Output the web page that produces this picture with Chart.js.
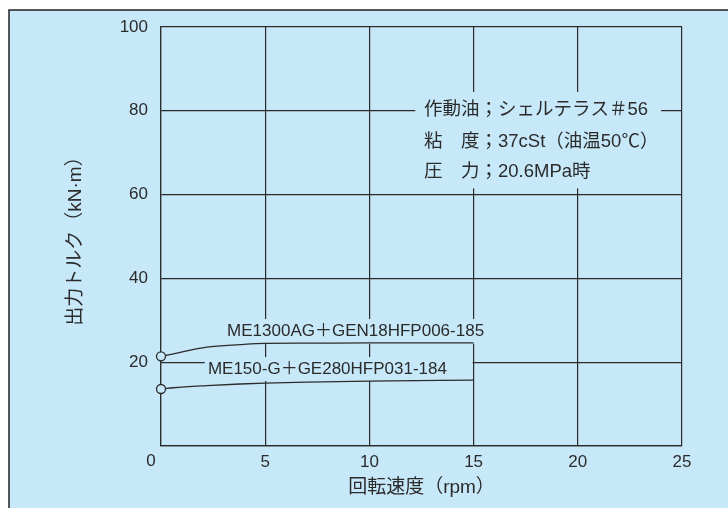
<!DOCTYPE html>
<html>
<head>
<meta charset="utf-8">
<script src="https://cdn.jsdelivr.net/npm/chart.js@4.4.1/dist/chart.umd.min.js"></script>
<style>
  html, body { margin: 0; padding: 0; background: #fff; }
  #wrap { width: 728px; height: 508px; }
</style>
</head>
<body>
<div id="wrap"><canvas id="torque_chart" width="728" height="508"></canvas></div>
<script>
// data
const rpmA = [0, 0.6, 2.2, 3.8, 5, 7, 10, 15];
const torqueA = [21.4, 22.0, 23.6, 24.2, 24.5, 24.55, 24.6, 24.6];
const rpmB = [0, 0.6, 2.2, 3.8, 5, 7, 10, 15];
const torqueB = [13.6, 13.9, 14.4, 14.8, 15.0, 15.25, 15.5, 15.7];
const seriesNames = ["ME1300AG＋GEN18HFP006-185", "ME150-G＋GE280HFP031-184"];
const xTicks = [0, 5, 10, 15, 20, 25];
const yTicks = [20, 40, 60, 80, 100];
const noteLines = ["作動油；シェルテラス＃56", "粘　度；37cSt（油温50℃）", "圧　力；20.6MPa時"];

const BG = "#c6e8f8";
const INK = "#2b2b2b";
const FONT = '"Liberation Sans", "Noto Sans CJK JP", sans-serif';

// boxes that hide the grid behind labels, in data units [x0, x1, y0, y1]
const masks = [
  [12.2, 24.0, 61.5, 84.5],
  [2.9, 15.6, 24.4, 30.3],
  [2.1, 14.95, 15.5, 21.2]
];

const decor = {
  id: "decor",
  beforeDraw(chart) {
    const c = chart.ctx;
    c.save();
    c.fillStyle = "#fff";
    c.fillRect(0, 0, chart.width, chart.height);
    c.fillStyle = BG;
    c.fillRect(9, 10, chart.width, chart.height);
    c.strokeStyle = "#222";
    c.lineWidth = 1.5;
    c.beginPath();
    c.moveTo(9, chart.height);
    c.lineTo(9, 10);
    c.lineTo(chart.width, 10);
    c.stroke();
    c.restore();
  },
  beforeDatasetsDraw(chart) {
    const c = chart.ctx, xs = chart.scales.x, ys = chart.scales.y;
    c.save();
    c.fillStyle = BG;
    masks.forEach(m => {
      const x0 = xs.getPixelForValue(m[0]), x1 = xs.getPixelForValue(m[1]);
      const y0 = ys.getPixelForValue(m[3]), y1 = ys.getPixelForValue(m[2]);
      c.fillRect(x0, y0, x1 - x0, y1 - y0);
    });
    c.restore();
  },
  afterDatasetsDraw(chart) {
    const c = chart.ctx, xs = chart.scales.x, ys = chart.scales.y;
    c.save();
    c.fillStyle = INK;
    c.textBaseline = "middle";
    c.textAlign = "left";
    c.font = "18.5px " + FONT;
    const noteY = [80.3, 72.6, 65.4];
    noteLines.forEach((t, i) => {
      c.fillText(t, xs.getPixelForValue(12.62), ys.getPixelForValue(noteY[i]));
    });
    c.font = "17px " + FONT;
    c.fillText(seriesNames[0], xs.getPixelForValue(3.17), ys.getPixelForValue(27.3));
    c.fillText(seriesNames[1], xs.getPixelForValue(2.25), ys.getPixelForValue(18.4));
    // x "0" sits left of the corner
    c.textAlign = "center";
    c.fillText("0", xs.getPixelForValue(0) - 10, ys.bottom + 15);
    c.restore();
  }
};

const ctx = document.getElementById("torque_chart").getContext("2d");
new Chart(ctx, {
  type: "line",
  data: {
    datasets: [
      {
        label: seriesNames[0],
        data: rpmA.map((x, i) => ({ x: x, y: torqueA[i] })),
      },
      {
        label: seriesNames[1],
        data: rpmB.map((x, i) => ({ x: x, y: torqueB[i] })),
      },
    ].map(d => Object.assign(d, {
      borderColor: INK,
      borderWidth: 1.3,
      cubicInterpolationMode: "monotone",
      pointRadius: c => (c.dataIndex === 0 ? 4.5 : 0),
      pointBackgroundColor: BG,
      pointBorderColor: INK,
      pointBorderWidth: 1.3,
      clip: false,
    })),
  },
  options: {
    responsive: false,
    animation: false,
    layout: { padding: { top: 27, right: 46, left: 0, bottom: 0 } },
    plugins: { legend: { display: false }, tooltip: { enabled: false } },
    scales: {
      x: {
        type: "linear",
        min: xTicks[0],
        max: xTicks[xTicks.length - 1],
        afterBuildTicks: s => { s.ticks = xTicks.map(v => ({ value: v })); },
        afterFit: s => { s.height = 62; },
        grid: { color: INK, lineWidth: 1.2, drawTicks: false },
        border: { color: INK, width: 1.2 },
        ticks: {
          padding: 6,
          color: INK,
          font: { family: FONT, size: 17 },
          callback: v => (v === 0 ? "" : v),
        },
        title: {
          display: true,
          text: "回転速度（rpm）",
          color: INK,
          font: { family: FONT, size: 19 },
          padding: { top: 0, bottom: 8.6 },
        },
      },
      y: {
        min: 0,
        max: yTicks[yTicks.length - 1],
        afterBuildTicks: s => { s.ticks = [0].concat(yTicks).map(v => ({ value: v })); },
        afterFit: s => { s.width = 161; },
        grid: { color: INK, lineWidth: 1.2, drawTicks: false },
        border: { color: INK, width: 1.2 },
        ticks: {
          padding: 13,
          color: INK,
          font: { family: FONT, size: 17 },
          callback: v => (v === 0 ? "" : v),
        },
        title: {
          display: true,
          text: "出力トルク（kN·m）",
          color: INK,
          font: { family: FONT, size: 19 },
          padding: { top: 64, bottom: 0 },
        },
      },
    },
  },
  plugins: [decor],
});
</script>
</body>
</html>
